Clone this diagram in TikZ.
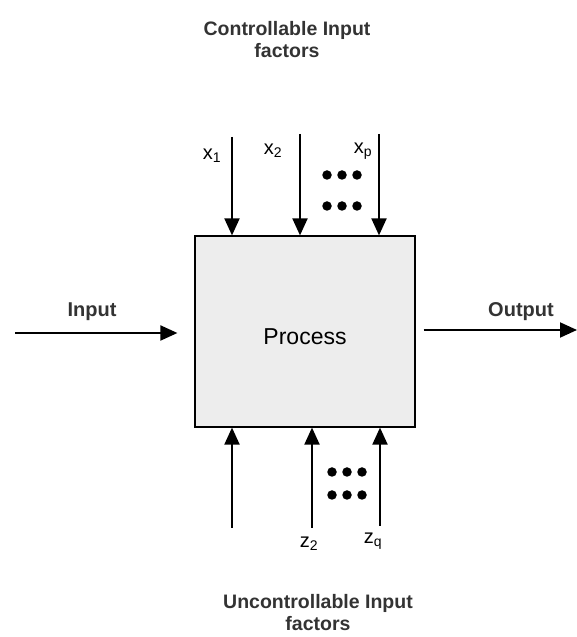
\documentclass[tikz,border=0pt]{standalone}
\usepackage{fontspec}
\setmainfont{Liberation Sans}
\usetikzlibrary{positioning,arrows.meta}

\begin{document}
\begin{tikzpicture}[x=1pt,y=1pt,
		flow/.style={-{Triangle[width=15pt,length=17pt]}, line width=2pt},
		dot/.style={circle, fill=black, inner sep=0pt, minimum size=9.5pt},
		heading/.style={font=\fontsize{19.5}{22}\selectfont\bfseries, text=black!80, align=center},
		sidetext/.style={font=\fontsize{20}{22}\selectfont\bfseries, text=black!80},
		factor/.style={font=\fontsize{20}{24}\selectfont}]
		\useasboundingbox (0,0) rectangle (577,637);
		
		% Draw the process block
		\node (process) [draw, line width=1.2pt, fill=black!7, minimum width=220pt, minimum height=191pt] at (305,305.5) {};
		\node (processtext) [font=\fontsize{23}{26}\selectfont] at (305,300) {Process};
		
		% Titles above and below
		\node (ctrltitle) [heading] at (287,597) {Controllable Input\\factors};
		\node (unctrltitle) [heading] at (318,24) {Uncontrollable Input\\factors};
		
		% Controllable factors on top
		\coordinate (xone) at (232,500);
		\coordinate (xtwo) at (300,503);
		\coordinate (xpee) at (379,503);
		\node (xonelabel) [factor] at (212,481) {x\textsubscript{1}};
		\node (xtwolabel) [factor] at (273,486) {x\textsubscript{2}};
		\node (xpeelabel) [factor] at (363,486) {x\textsubscript{p}};
		\draw[flow] (xone) -- (xone |- process.north);
		\draw[flow] (xtwo) -- (xtwo |- process.north);
		\draw[flow] (xpee) -- (xpee |- process.north);
		
		% Dots between the top arrows
		\foreach \i/\px in {1/327,2/342,3/357} {
			\node (topdotA\i) [dot] at (\px,462) {};
			\node (topdotB\i) [dot] at (\px,431) {};
		}
		
		% Uncontrollable factors below
		\coordinate (zone) at (232,109);
		\coordinate (ztwo) at (312,109);
		\coordinate (zque) at (380,111);
		\node (ztwolabel) [factor] at (309,93) {z\textsubscript{2}};
		\node (zquelabel) [factor] at (373,96) {z\textsubscript{q}};
		\draw[flow] (zone) -- (zone |- process.south);
		\draw[flow] (ztwo) -- (ztwo |- process.south);
		\draw[flow] (zque) -- (zque |- process.south);
		
		% Dots between the bottom arrows
		\foreach \i/\px in {1/332,2/347,3/362} {
			\node (botdotA\i) [dot] at (\px,165) {};
			\node (botdotB\i) [dot] at (\px,142) {};
		}
		
		% Input and output
		\coordinate (inputstart) at (15,304);
		\coordinate (outputend) at (577,307);
		\node (inputtext) [sidetext] at (92,325) {Input};
		\node (outputtext) [sidetext] at (521,325) {Output};
		\draw[flow, shorten >=17pt] (inputstart) -- (inputstart -| process.west);
		\draw[flow, shorten <=8pt] (outputend -| process.east) -- (outputend);
	\end{tikzpicture}
\end{document}
